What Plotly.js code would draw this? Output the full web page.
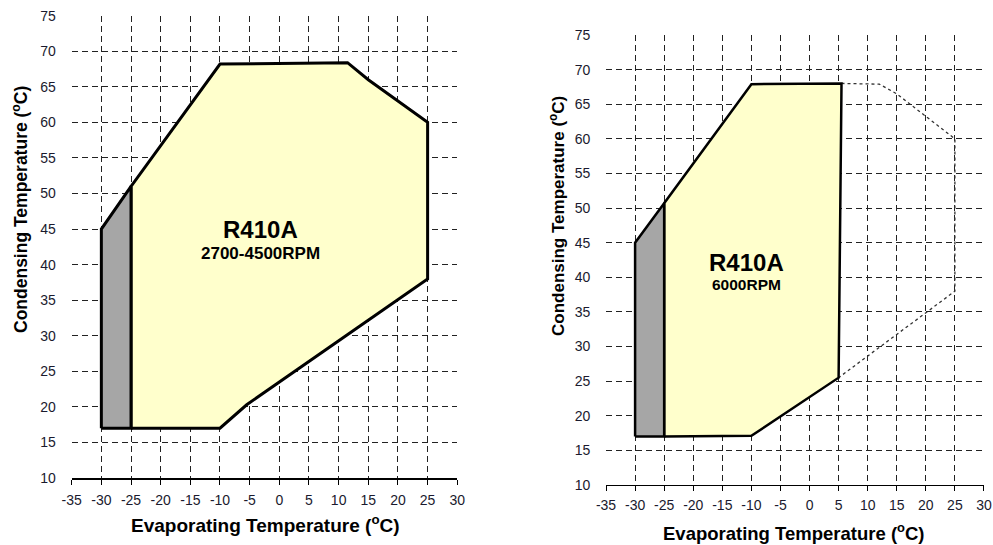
<!DOCTYPE html>
<html><head><meta charset="utf-8">
<script src="https://cdn.plot.ly/plotly-3.0.1.min.js"></script>
<style>html,body{margin:0;padding:0;background:#fff;}#chart{width:993px;height:545px;}</style>
</head><body><div id="chart"></div>
<script>
// Left chart: 2700-4500 RPM envelope
const leftGrayX = [-30, -30, -25, -25, -30];
const leftGrayY = [17, 45, 51, 17, 17];
const leftYellowX = [-25, -25, -10, 11.5, 15, 25, 25, -5.5, -10, -25];
const leftYellowY = [17, 51, 68.2, 68.4, 66, 60, 38, 20.3, 17, 17];
// Right chart: 6000 RPM envelope
const rightGrayX = [-30, -30, -25, -25, -30];
const rightGrayY = [17, 45, 50.7, 17, 17];
const rightYellowX = [-25, -25, -10, 5.5, 5, -10, -25];
const rightYellowY = [17, 50.7, 67.9, 68, 25.5, 17.1, 17];
const rightDottedX = [5.5, 12, 15, 25, 25, 5];
const rightDottedY = [68, 67.9, 66.5, 60, 38, 25.5];
// Ticks
const xTicks = [-35, -30, -25, -20, -15, -10, -5, 0, 5, 10, 15, 20, 25, 30];
const yTicks = [10, 15, 20, 25, 30, 35, 40, 45, 50, 55, 60, 65, 70, 75];
const labels = {
  left: ['R410A', '2700-4500RPM'],
  right: ['R410A', '6000RPM']
};
const xTitle = 'Evaporating Temperature (<sup>o</sup>C)';
const yTitle = 'Condensing Temperature (<sup>o</sup>C)';

const FONT = 'Liberation Sans, Arial, sans-serif';
function poly(x, y, fill, xa, ya, w) {
  return {x: x, y: y, xaxis: xa, yaxis: ya, type: 'scatter', mode: 'lines',
    fill: 'toself', fillcolor: fill, line: {color: '#000', width: w || 3},
    hoverinfo: 'skip', showlegend: false};
}
const traces = [
  poly(leftYellowX, leftYellowY, '#ffffcc', 'x', 'y'),
  poly(leftGrayX, leftGrayY, '#a6a6a6', 'x', 'y'),
  {x: rightDottedX, y: rightDottedY, xaxis: 'x2', yaxis: 'y2', type: 'scatter', mode: 'lines',
    line: {color: '#333', width: 1.3, dash: 'dot'}, hoverinfo: 'skip', showlegend: false},
  poly(rightYellowX, rightYellowY, '#ffffcc', 'x2', 'y2', 2.5),
  poly(rightGrayX, rightGrayY, '#a6a6a6', 'x2', 'y2', 2.5)
];

function xax(domain, anchor, standoff) {
  return {domain: domain, anchor: anchor, range: [-35, 30], tickvals: xTicks, ticktext: xTicks.map(String),
    showgrid: true, gridcolor: '#222', griddash: '6px,4px', gridwidth: 1,
    zeroline: false, showline: true, linecolor: '#000', linewidth: 1.5,
    ticks: 'outside', ticklen: 5, tickcolor: '#000', tickwidth: 1, ticklabelstandoff: standoff,
    tickfont: {family: FONT, size: 14, color: '#1a1a2e'},
    fixedrange: true};
}
function yax(domain, anchor) {
  return {domain: domain, anchor: anchor, range: [10, 75], tickvals: yTicks, ticktext: yTicks.map(String),
    showgrid: true, gridcolor: '#222', griddash: '6px,4px', gridwidth: 1,
    zeroline: false, showline: false, ticks: 'outside', ticklen: 12, tickcolor: 'rgba(0,0,0,0)',
    tickfont: {family: FONT, size: 14, color: '#1a1a2e'},
    fixedrange: true};
}
function title(text, x, y, size, angle) {
  return {xref: 'paper', yref: 'paper', x: x / 993, y: 1 - y / 545, text: text, showarrow: false,
    textangle: angle || 0, xanchor: 'center', yanchor: 'middle',
    font: {family: FONT, size: size, color: '#000', weight: 'bold'}};
}
function label(text, xa, ya, x, y, size) {
  return {xref: xa, yref: ya, x: x, y: y, text: text, showarrow: false,
    font: {family: FONT, size: size, color: '#000', weight: 'bold'}};
}
const layout = {
  width: 993, height: 545, margin: {l: 0, r: 0, t: 0, b: 0},
  paper_bgcolor: '#fff', plot_bgcolor: 'rgba(0,0,0,0)',
  xaxis: xax([0.0722, 0.4605], 'y', 4),
  yaxis: yax([0.1229, 0.9712], 'x'),
  xaxis2: xax([0.6103, 0.9909], 'y2', 2),
  yaxis2: yax([0.1101, 0.9358], 'x2'),
  annotations: [
    title(xTitle, 265, 524, 19),
    title(xTitle, 793, 532, 18.5),
    title(yTitle, 20, 210, 17.5, -90),
    title(yTitle, 557, 216, 17, -90),
    label(labels.left[0], 'x', 'y', -3.1, 45.0, 24),
    label(labels.left[1], 'x', 'y', -3.1, 41.6, 17),
    label(labels.right[0], 'x2', 'y2', -10.8, 42.2, 24),
    label(labels.right[1], 'x2', 'y2', -10.8, 38.9, 15.5)
  ]
};
Plotly.newPlot('chart', traces, layout, {displayModeBar: false, staticPlot: true});
</script></body></html>
